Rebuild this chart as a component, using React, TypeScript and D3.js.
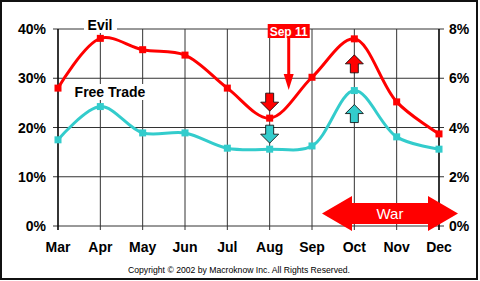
import React from "react";
import * as d3 from "d3";

const months = ["Mar", "Apr", "May", "Jun", "Jul", "Aug", "Sep", "Oct", "Nov", "Dec"];
const evil = [28.0, 38.1, 35.8, 34.7, 28.0, 21.9, 30.2, 38.0, 25.2, 18.7];
const freeTrade = [3.5, 4.85, 3.78, 3.78, 3.16, 3.12, 3.25, 5.5, 3.62, 3.12];
const leftTicks = [0, 10, 20, 30, 40];
const rightTicks = [0, 2, 4, 6, 8];

const W = 480;
const H = 281;
const FONT = "'Liberation Sans', Arial, sans-serif";
const RED = "#ff0000";
const CYAN = "#33cccc";
const GRID = "#333333";

export default function App() {
  const x = d3.scalePoint<string>().domain(months).range([58, 439]);
  const yL = d3.scaleLinear().domain([0, 40]).range([226, 29]);
  const yR = d3.scaleLinear().domain([0, 8]).range([226, 29]);
  const step = x.step();

  const curve = d3.curveCatmullRom.alpha(0.5);
  const evilLine = d3
    .line<number>()
    .x((_, i) => x(months[i])!)
    .y((d) => yL(d))
    .curve(curve);
  const ftLine = d3
    .line<number>()
    .x((_, i) => x(months[i])!)
    .y((d) => yR(d))
    .curve(curve);

  const downArrow = (cx: number, y0: number) =>
    `M${cx - 4},${y0} L${cx + 4},${y0} L${cx + 4},${y0 + 9} L${cx + 9},${y0 + 9} L${cx},${y0 + 18} L${cx - 9},${y0 + 9} L${cx - 4},${y0 + 9} Z`;
  const upArrow = (cx: number, y0: number) =>
    `M${cx},${y0} L${cx + 9},${y0 + 9} L${cx + 4},${y0 + 9} L${cx + 4},${y0 + 18} L${cx - 4},${y0 + 18} L${cx - 4},${y0 + 9} L${cx - 9},${y0 + 9} Z`;

  const iAug = months.indexOf("Aug");
  const iOct = months.indexOf("Oct");
  const xAug = x("Aug")!;
  const xOct = x("Oct")!;
  const xSep11 = xAug + step * 0.45;

  const warL = x("Sep")! + 10;
  const warR = x("Dec")! + 19;
  const warC = 213.5;
  const warPath = `M${warL},${warC} L${warL + 30},${warC - 17.5} L${warL + 30},${warC - 10.5} L${warR - 30},${warC - 10.5} L${warR - 30},${warC - 17.5} L${warR},${warC} L${warR - 30},${warC + 17.5} L${warR - 30},${warC + 10.5} L${warL + 30},${warC + 10.5} L${warL + 30},${warC + 17.5} Z`;

  const x0 = x(months[0])!;
  const x1 = x(months[months.length - 1])!;

  return (
    <svg
      width={W}
      height={H}
      style={{ position: "absolute", left: 0, top: 0, background: "#fff" }}
      fontFamily={FONT}
    >
      <rect x={0} y={0} width={W} height={H} fill="#fff" />
      <rect x={1} y={1} width={476} height={278} fill="none" stroke="#111" strokeWidth={2} />

      {/* horizontal gridlines */}
      {leftTicks.map((t) => (
        <line key={"h" + t} x1={x0 - 5} x2={x1 + 5} y1={yL(t)} y2={yL(t)} stroke={GRID} strokeWidth={1} />
      ))}
      {/* vertical gridlines */}
      {months.map((m) => (
        <line key={"v" + m} x1={x(m)!} x2={x(m)!} y1={yL(40)} y2={yL(0) + 4} stroke={GRID} strokeWidth={1} />
      ))}
      <line x1={x0} x2={x0} y1={yL(40)} y2={yL(0) + 4} stroke="#000" strokeWidth={1.3} />
      <line x1={x1} x2={x1} y1={yL(40)} y2={yL(0) + 4} stroke="#000" strokeWidth={1.3} />

      {/* axis labels */}
      {leftTicks.map((t) => (
        <text key={"l" + t} x={46} y={yL(t) + 5} textAnchor="end" fontSize={14} fontWeight="bold" fill="#000">
          {t}%
        </text>
      ))}
      {rightTicks.map((t) => (
        <text key={"r" + t} x={449} y={yR(t) + 5} textAnchor="start" fontSize={14} fontWeight="bold" fill="#000">
          {t}%
        </text>
      ))}
      {months.map((m) => (
        <text key={"m" + m} x={x(m)!} y={252} textAnchor="middle" fontSize={14} fontWeight="bold" fill="#000">
          {m}
        </text>
      ))}

      {/* series labels */}
      <rect x={84} y={16} width={33} height={17} fill="#fff" />
      <text x={100} y={30} textAnchor="middle" fontSize={14} fontWeight="bold" fill="#000">
        Evil
      </text>
      <rect x={72} y={84} width={76} height={16} fill="#fff" />
      <text x={110} y={97} textAnchor="middle" fontSize={14} fontWeight="bold" fill="#000">
        Free Trade
      </text>

      {/* lines */}
      <path d={evilLine(evil) || ""} fill="none" stroke={RED} strokeWidth={3} strokeLinejoin="round" />
      <path d={ftLine(freeTrade) || ""} fill="none" stroke={CYAN} strokeWidth={3} strokeLinejoin="round" />
      {evil.map((v, i) => (
        <rect key={"e" + i} x={x(months[i])! - 3.5} y={yL(v) - 3.5} width={7} height={7} fill={RED} />
      ))}
      {freeTrade.map((v, i) => (
        <rect key={"f" + i} x={x(months[i])! - 3.5} y={yR(v) - 3.5} width={7} height={7} fill={CYAN} />
      ))}

      {/* block arrows */}
      <path d={downArrow(xAug, yL(evil[iAug]) - 25)} fill={RED} stroke="#000" strokeWidth={0.8} />
      <path d={downArrow(xAug, yR(freeTrade[iAug]) - 24)} fill={CYAN} stroke="#000" strokeWidth={0.8} />
      <path d={upArrow(xOct, yL(evil[iOct]) + 16)} fill={RED} stroke="#000" strokeWidth={0.8} />
      <path d={upArrow(xOct, yR(freeTrade[iOct]) + 14)} fill={CYAN} stroke="#000" strokeWidth={0.8} />

      {/* Sep 11 */}
      <rect x={xSep11 - 21} y={24} width={42} height={14} fill={RED} />
      <text x={xSep11} y={35.5} textAnchor="middle" fontSize={12} fontWeight="bold" fill="#fff">
        Sep 11
      </text>
      <line x1={xSep11} x2={xSep11} y1={38} y2={76} stroke={RED} strokeWidth={3} />
      <path d={`M${xSep11 - 5},${74} L${xSep11 + 5},${74} L${xSep11},${90} Z`} fill={RED} />

      {/* War */}
      <path d={warPath} fill={RED} />
      <text x={(warL + warR) / 2} y={warC + 5} textAnchor="middle" fontSize={15} fill="#fff">
        War
      </text>

      {/* copyright */}
      <text x={239} y={273} textAnchor="middle" fontSize={9} fill="#000" textLength={222} lengthAdjust="spacingAndGlyphs">
        Copyright © 2002 by Macroknow Inc. All Rights Reserved.
      </text>
    </svg>
  );
}
